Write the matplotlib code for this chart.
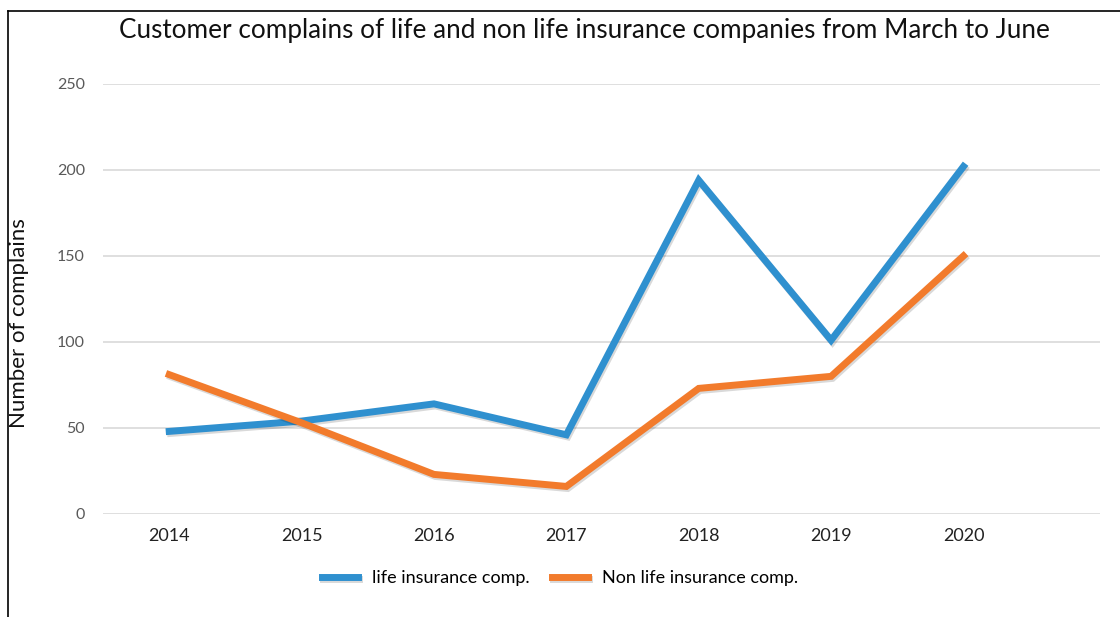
import matplotlib
matplotlib.use("Agg")
from matplotlib import pyplot as plt
from matplotlib import patheffects as pe
from matplotlib.lines import Line2D
import numpy as np

years = ["2014", "2015", "2016", "2017", "2018", "2019", "2020"]
life = [48, 54, 64, 46, 194, 101, 202]
non_life = [81, 53, 23, 16, 73, 80, 150]

blue = "#2f90cf"
orange = "#f27b2c"

plt.rcParams["font.family"] = ["Lato", "DejaVu Sans"]

fig = plt.figure(figsize=(11.2, 6.17), dpi=100)
ax = fig.add_axes([0.092, 0.167, 0.89, 0.697])

x = np.arange(len(years))
shadow = [pe.SimpleLineShadow(offset=(1, -1.5), alpha=0.15), pe.Normal()]
ax.plot(x, life, color=blue, lw=5, solid_joinstyle="miter",
        label="life insurance comp.", path_effects=shadow)
ax.plot(x, non_life, color=orange, lw=5, solid_joinstyle="miter",
        label="Non life insurance comp.", path_effects=shadow)

ax.set_ylim(0, 250)
ax.set_xlim(-0.5, 7.03)
ax.set_yticks(range(0, 251, 50))
ax.set_xticks(x)
ax.set_xticklabels(years, fontsize=13, color="#222222")
ax.tick_params(axis="y", labelsize=11.5, labelcolor="#595959", length=0, pad=13)
ax.tick_params(axis="x", length=0, pad=10)
ax.grid(axis="y", color="#d9d9d9", lw=1.2)
ax.set_axisbelow(True)
for s in ax.spines.values():
    s.set_visible(False)

fig.text(0.522, 0.951, "Customer complains of life and non life insurance companies from March to June",
         ha="center", va="center", fontsize=18.8, color="#111111")
fig.text(0.017, 0.476, "Number of complains", rotation=90, ha="center", va="center",
         fontsize=16, color="#111111")

fig.legend(loc="center", bbox_to_anchor=(0.5, 0.063), ncol=2, frameon=False,
           fontsize=13, handlelength=2.0, columnspacing=1.2, handletextpad=0.8)

# frame lines on the left and top of the figure
fig.add_artist(Line2D([8 / 1120, 8 / 1120], [0, 1 - 11 / 617], color="black", lw=1.2))
fig.add_artist(Line2D([8 / 1120, 1], [1 - 11 / 617, 1 - 11 / 617], color="black", lw=1.2))

fig.savefig("out.png", dpi=100)
